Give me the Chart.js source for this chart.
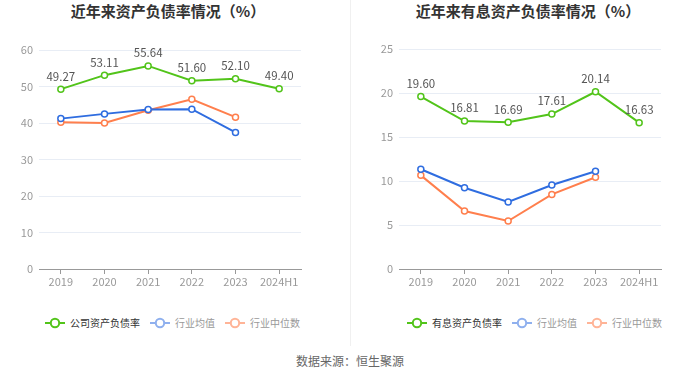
<!DOCTYPE html>
<html><head><meta charset="utf-8">
<script src="https://cdn.jsdelivr.net/npm/chart.js@4/dist/chart.umd.min.js"></script>
<style>
body{margin:0;width:700px;height:378px;background:#fff;position:relative;overflow:hidden;font-family:"Noto Sans CJK SC","Noto Sans",sans-serif}
.title{position:absolute;top:1px;width:300px;text-align:center;font-size:15px;font-weight:bold;color:#333;line-height:20px}
.box{position:absolute;top:0;width:350px;height:300px}
.divider{position:absolute;left:350px;top:0;width:1px;height:346px;background:#f0f0f0}
.legend{position:absolute;top:315px;height:16px;display:flex;align-items:center;font-size:10px;line-height:16px;white-space:nowrap}
.legend span{display:inline-flex;align-items:center}
.legend svg{margin-right:5px}
.src{position:absolute;top:352px;left:0;width:700px;text-align:center;font-size:12px;color:#666}
</style></head>
<body>
<div class="title" style="left:18px">近年来资产负债率情况（%）</div>
<div class="title" style="left:378px">近年来有息资产负债率情况（%）</div>
<div class="box" style="left:0"><canvas id="c1" width="350" height="300"></canvas></div>
<div class="box" style="left:350px"><canvas id="c2" width="350" height="300"></canvas></div>
<div class="divider"></div>
<div class="legend" id="lg1" style="left:45px"></div>
<div class="legend" id="lg2" style="left:407px"></div>
<div class="src">数据来源：恒生聚源</div>
<script>
const categories = ["2019","2020","2021","2022","2023","2024H1"];
const companyDebt = [49.27,53.11,55.64,51.60,52.10,49.40];
const industryAvgDebt = [41.2,42.5,43.7,43.8,37.4,null];
const industryMedDebt = [40.2,40.0,43.5,46.5,41.6,null];
const interestDebt = [19.60,16.81,16.69,17.61,20.14,16.63];
const industryAvgInterest = [11.33,9.24,7.61,9.55,11.1,null];
const industryMedInterest = [10.64,6.59,5.45,8.48,10.42,null];
const leftTicks = {max:60, step:10};
const rightTicks = {max:25, step:5};
const legend1 = ["公司资产负债率","行业均值","行业中位数"];
const legend2 = ["有息资产负债率","行业均值","行业中位数"];

const GREEN="#52c41a", BLUE="#2f6de0", ORANGE="#ff7f4d";
const LGREEN="#52c41a", LBLUE="#8fb0ee", LORANGE="#ffb497";

function icon(c){return `<svg width="20" height="12"><line x1="0" y1="6" x2="20" y2="6" stroke="${c}" stroke-width="2"/><circle cx="10" cy="6" r="4.2" fill="#fff" stroke="${c}" stroke-width="2"/></svg>`;}
function buildLegend(id,names,gaps){
  const cols=[LGREEN,LBLUE,LORANGE], tcol=["#333","#999","#999"];
  document.getElementById(id).innerHTML = names.map((n,i)=>`<span style="margin-right:${gaps[i]}px;color:${tcol[i]}">${icon(cols[i])}${n}</span>`).join("");
}
buildLegend("lg1",legend1,[10,10,0]);
buildLegend("lg2",legend2,[10,10,0]);

Chart.defaults.font.family = '"Noto Sans CJK SC","Noto Sans",sans-serif';

const labelPlugin = {
  id:"vlabels",
  afterDatasetsDraw(chart){
    const ctx=chart.ctx, meta=chart.getDatasetMeta(0), data=chart.data.datasets[0].data;
    ctx.save();
    ctx.font='11.5px "Noto Sans CJK SC","Noto Sans",sans-serif';
    ctx.fillStyle="#555"; ctx.textAlign="center"; ctx.textBaseline="middle";
    meta.data.forEach((p,i)=>{ if(data[i]!=null) ctx.fillText(data[i].toFixed(2), p.x, p.y-13); });
    ctx.restore();
  }
};

function ds(label,data,color){
  return {label,data,borderColor:color,backgroundColor:"#fff",borderWidth:2,
    pointRadius:3,pointBorderWidth:1.5,pointBackgroundColor:"#fff",pointBorderColor:color,
    pointHoverRadius:3,tension:0,spanGaps:false};
}

function make(id,sets,ticks,pad){
  new Chart(document.getElementById(id),{
    type:"line",
    data:{labels:categories,datasets:sets},
    options:{
      responsive:false,animation:false,
      layout:{padding:{top:pad.top,right:pad.right,left:0,bottom:0}},
      plugins:{legend:{display:false},tooltip:{enabled:false}},
      scales:{
        x:{offset:true,
          grid:{display:true,drawOnChartArea:false,drawTicks:true,tickLength:5,offset:false,color:"#999"},
          border:{display:true,color:"#999"},
          ticks:{color:"#999",font:{size:11},padding:1,maxRotation:0,autoSkip:false},
          afterFit(s){s.height=31;}},
        y:{min:0,max:ticks.max,
          ticks:{stepSize:ticks.step,color:"#999",font:{size:11},padding:6},
          grid:{color:"#e8edf5",drawTicks:false},
          border:{display:false},
          afterFit(s){s.width=pad.left;}}
      }
    },
    plugins:[labelPlugin]
  });
}
make("c1",[ds(legend1[0],companyDebt,GREEN),ds(legend1[1],industryAvgDebt,BLUE),ds(legend1[2],industryMedDebt,ORANGE)],leftTicks,{top:50,right:49,left:39});
make("c2",[ds(legend2[0],interestDebt,GREEN),ds(legend2[1],industryAvgInterest,BLUE),ds(legend2[2],industryMedInterest,ORANGE)],rightTicks,{top:49,right:39,left:49});
</script>
</body></html>
